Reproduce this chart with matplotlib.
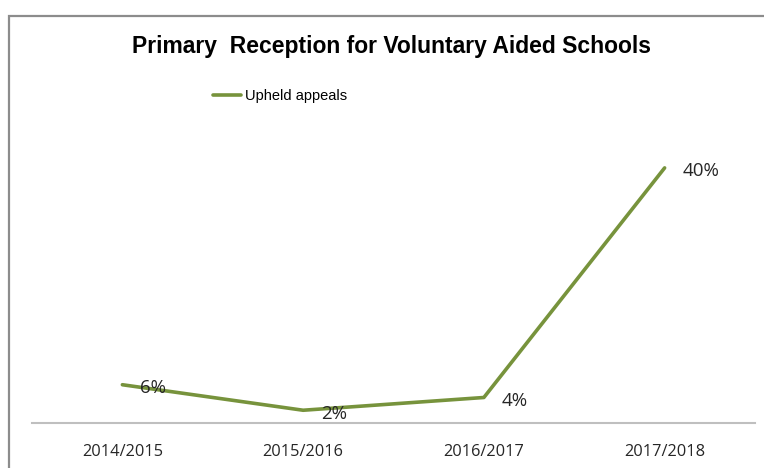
import matplotlib.pyplot as plt
from matplotlib.patches import Rectangle

# data
years = ['2014/2015', '2015/2016', '2016/2017', '2017/2018']
upheld = [6, 2, 4, 40]
labels = ['6%', '2%', '4%', '40%']

W, H = 764, 468
fig = plt.figure(figsize=(W / 100, H / 100), dpi=100)

# chart border (cropped on right and bottom)
fig.patches.append(Rectangle((8.5 / W, -0.2), 1.2, 1.2 - 15.5 / H,
                             transform=fig.transFigure, fill=False,
                             edgecolor='#8c8c8c', linewidth=1.6))

# plot area: x 32..755, y 136..423 (pixels from top)
ax = fig.add_axes([32 / W, (H - 423) / H, (755 - 32) / W, (423 - 136) / H])
x = range(len(years))
line, = ax.plot(x, upheld, color='#77933C', linewidth=2.6, solid_capstyle='round',
                label='Upheld appeals')
ax.set_xlim(-0.5, 3.5)
ax.set_ylim(0, 45)

for xi, v, lab in zip(x, upheld, labels):
    ax.annotate(lab, (xi, v), xytext=(13, -2.5), textcoords='offset points',
                ha='left', va='center', fontsize=13.5, family='Open Sans',
                color='#262626')

for s in ['top', 'right', 'left']:
    ax.spines[s].set_visible(False)
ax.spines['bottom'].set_color('#bfbfbf')
ax.spines['bottom'].set_linewidth(1.5)
ax.set_yticks([])
ax.set_xticks(list(x))
ax.set_xticklabels(years, fontsize=11.8, family='Open Sans', color='#262626')
ax.tick_params(axis='x', length=0, pad=15)

fig.text(392 / W, 1 - 47 / H, 'Primary  Reception for Voluntary Aided Schools',
         ha='center', va='center', fontsize=16.5, fontweight='bold',
         family='Liberation Sans', color='black')

leg = fig.legend(handles=[line], loc='center', bbox_to_anchor=(280 / W, 1 - 96 / H),
                 frameon=False, handlelength=1.9, handletextpad=0.3,
                 prop={'family': 'Liberation Sans', 'size': 10.5})

fig.savefig('out.png', dpi=100)
